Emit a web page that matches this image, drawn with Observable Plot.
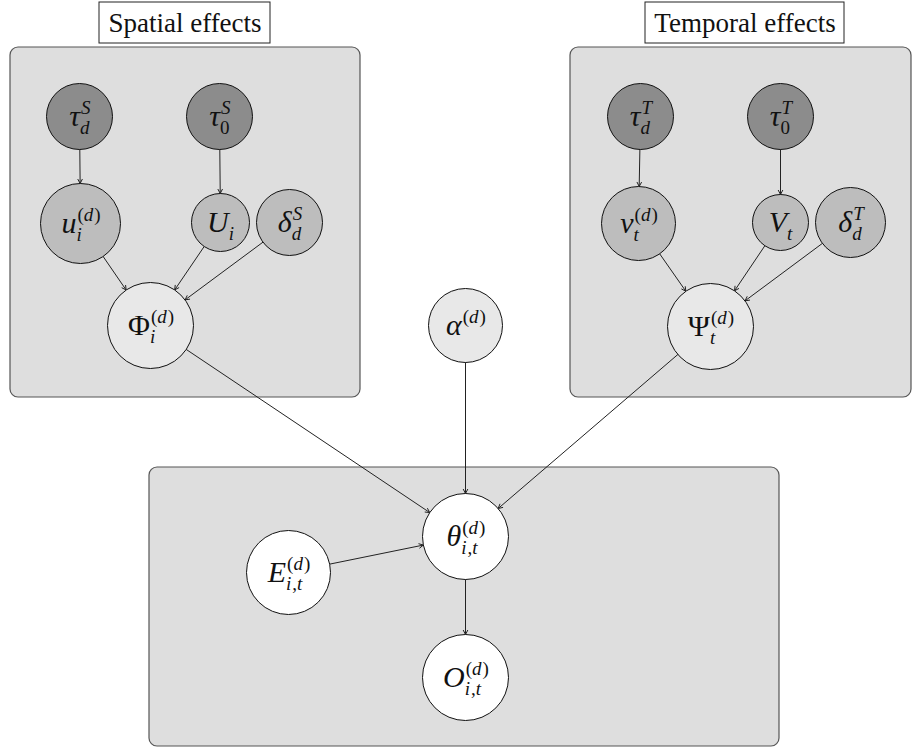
<!DOCTYPE html>
<html><head><meta charset="utf-8">
<script src="https://cdn.jsdelivr.net/npm/d3@7"></script>
<script src="https://cdn.jsdelivr.net/npm/@observablehq/plot@0.6"></script>
<style>html,body{margin:0;padding:0;background:#fff}</style>
</head><body><div id="chart"></div>
<script>
// ---- diagram data (layout units = pixels of the reference) ----
const nodeIds = ["tauSd","tauS0","uid","Ui","deltaSd","Phi","tauTd","tauT0","vtd","Vt","deltaTd","Psi","alpha","theta","E","O"];
const nodeX   = [79, 219, 80, 220, 289, 150, 640, 780, 638, 780, 850, 710, 465, 465, 288, 465];
const nodeY   = [116, 116, 223, 222, 222, 325, 116, 116, 223, 222, 222, 326, 325, 536, 572, 677];
const nodeR   = [33, 33, 40, 29, 33, 43, 33, 33, 37, 28, 35, 43, 37, 43, 42, 43];
const nodeKind = ["hyper","hyper","latent","latent","latent","effect","hyper","hyper","latent","latent","latent","effect","effect","obs","obs","obs"];
const labelBase = ["τ","τ","u","U","δ","Φ","τ","τ","v","V","δ","Ψ","α","θ","E","O"];
const labelSup  = ["S","S","(d)","","S","(d)","T","T","(d)","","T","(d)","(d)","(d)","(d)","(d)"];
const labelSub  = ["d","0","i","i","d","i","d","0","t","t","d","t","","i,t","i,t","i,t"];

const edgeFrom = ["tauSd","tauS0","uid","Ui","deltaSd","tauTd","tauT0","vtd","Vt","deltaTd","Phi","alpha","Psi","E","theta"];
const edgeTo   = ["uid","Ui","Phi","Phi","Phi","vtd","Vt","Psi","Psi","Psi","theta","theta","theta","theta","O"];

const panelX1 = [10, 570, 149];
const panelX2 = [360, 911, 779];
const panelY1 = [47, 47, 467];
const panelY2 = [397, 397, 746];

const titleNames = ["Spatial effects", "Temporal effects"];
const titleX1 = [99, 645];
const titleX2 = [270, 844];
const titleY1 = [2, 2];
const titleY2 = [43, 43];

const kindNames = ["hyper","latent","effect","obs"];
const kindFills = ["#8c8c8c","#bdbdbd","#e8e8e8","#ffffff"];
const uprightBase = ["Φ","Ψ"];

// ---- build tables ----
const FONT = '"Liberation Serif", "Times New Roman", serif';
const BASE = 30, SCRIPT = 19, SUP_OFF = -9, SUB_OFF = 11;
const ctx = document.createElement("canvas").getContext("2d");
function measure(t, size, italic) {
  if (!t) return 0;
  ctx.font = `${italic ? "italic " : ""}${size}px ${FONT}`;
  return ctx.measureText(t).width;
}
// split a script string into runs: latin/greek letters italic, the rest upright
function runs(s) {
  const out = [];
  for (const ch of s) {
    const it = /\p{L}/u.test(ch);
    if (out.length && out[out.length - 1].italic === it) out[out.length - 1].text += ch;
    else out.push({text: ch, italic: it});
  }
  return out;
}
function runWidth(s, size) {
  let w = 0;
  runs(s).forEach((r, k, a) => { w += measure(r.text, size, r.italic) + (r.italic && k < a.length - 1 ? 1 : 0); });
  return w;
}
const pieces = [];
const nodes = nodeIds.map((id, i) => {
  const upBase = uprightBase.includes(labelBase[i]);
  const wb = measure(labelBase[i], BASE, !upBase);
  const ws = Math.max(runWidth(labelSup[i], SCRIPT), runWidth(labelSub[i], SCRIPT));
  const jx = nodeX[i] + (wb - ws) / 2;
  pieces.push({x: jx, y: nodeY[i], text: labelBase[i], size: BASE, italic: !upBase, anchor: "end"});
  [[labelSup[i], SUP_OFF, 1], [labelSub[i], SUB_OFF, 0]].forEach(([s, off, gap]) => {
    let x = jx + gap;
    runs(s).forEach((r, k, a) => {
      pieces.push({x, y: nodeY[i] + off, text: r.text, size: SCRIPT, italic: r.italic, anchor: "start"});
      x += measure(r.text, SCRIPT, r.italic) + (r.italic && k < a.length - 1 ? 1 : 0);
    });
  });
  return {id, x: nodeX[i], y: nodeY[i], r: nodeR[i], kind: nodeKind[i]};
});
const byId = new Map(nodes.map(d => [d.id, d]));
const edges = edgeFrom.map((f, i) => {
  const a = byId.get(f), b = byId.get(edgeTo[i]);
  const dx = b.x - a.x, dy = b.y - a.y, L = Math.hypot(dx, dy);
  const ux = dx / L, uy = dy / L;
  return {x1: a.x + ux * a.r, y1: a.y + uy * a.r, x2: b.x - ux * b.r, y2: b.y - uy * b.r};
});
const panels = panelX1.map((x1, i) => ({x1, x2: panelX2[i], y1: panelY1[i], y2: panelY2[i]}));
const titles = titleNames.map((name, i) => ({name, x1: titleX1[i], x2: titleX2[i], y1: titleY1[i], y2: titleY2[i]}));

const T = {fontFamily: FONT, fill: "#111"};
const pieceMark = (filter, italic, anchor) =>
  Plot.text(pieces.filter(p => p.italic === italic && p.anchor === anchor),
    {...T, x: "x", y: "y", text: "text", fontSize: "size", textAnchor: anchor, ...(italic ? {fontStyle: "italic"} : {})});

const chart = Plot.plot({
  width: 913, height: 749, margin: 0,
  style: {fontFamily: FONT, background: "white"},
  x: {domain: [0, 913], range: [0, 913], axis: null},
  y: {domain: [0, 749], range: [0, 749], axis: null},
  r: {type: "identity"},
  color: {domain: kindNames, range: kindFills},
  marks: [
    Plot.rect(panels, {x1: "x1", x2: "x2", y1: "y1", y2: "y2", fill: "#dedede", stroke: "#555", strokeWidth: 1.2, rx: 8}),
    Plot.rect(titles, {x1: "x1", x2: "x2", y1: "y1", y2: "y2", fill: "white", stroke: "#222", strokeWidth: 1}),
    Plot.text(titles, {...T, x: d => (d.x1 + d.x2) / 2, y: d => (d.y1 + d.y2) / 2, text: "name", fontSize: 27}),
    Plot.arrow(edges, {x1: "x1", y1: "y1", x2: "x2", y2: "y2", stroke: "#222", strokeWidth: 1, headLength: 7, headAngle: 55}),
    Plot.dot(nodes, {x: "x", y: "y", r: "r", fill: "kind", stroke: "#111", strokeWidth: 1}),
    pieceMark(null, true, "end"),
    pieceMark(null, false, "end"),
    pieceMark(null, true, "start"),
    pieceMark(null, false, "start")
  ]
});
document.getElementById("chart").appendChild(chart);
</script></body></html>
